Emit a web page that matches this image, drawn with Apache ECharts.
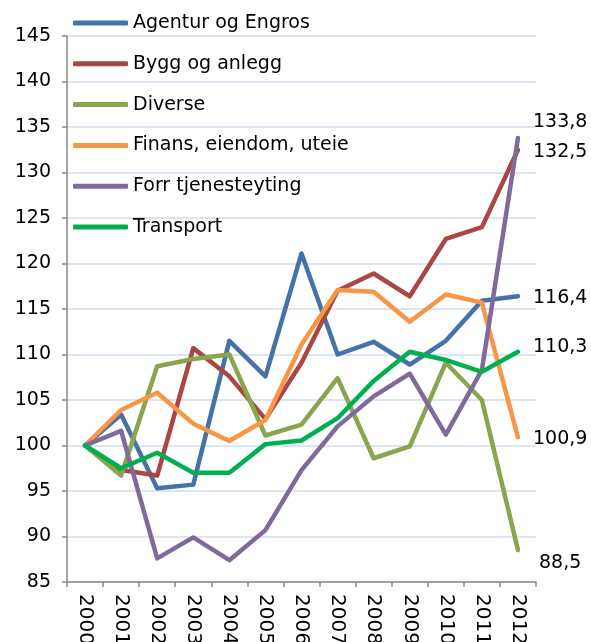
<!DOCTYPE html>
<html>
<head>
<meta charset="utf-8">
<script src="https://cdn.jsdelivr.net/npm/echarts@6/dist/echarts.min.js"></script>
<style>
html,body{margin:0;padding:0;background:#fff;}
#c{width:591px;height:642px;}
</style>
</head>
<body>
<div id="c"></div>
<script>
const years = ['2000','2001','2002','2003','2004','2005','2006','2007','2008','2009','2010','2011','2012'];
const seriesNames = ['Agentur og Engros','Bygg og anlegg','Diverse','Finans, eiendom, uteie','Forr tjenesteyting','Transport'];
const agentur  = [100,103.4,95.3,95.7,111.5,107.6,121.1,110.0,111.4,108.9,111.5,115.9,116.4];
const bygg     = [100,97.3,96.7,110.7,107.6,102.9,109.1,117.0,118.9,116.4,122.7,124.0,132.5];
const diverse  = [100,96.7,108.7,109.5,110.0,101.1,102.3,107.4,98.6,99.9,109.1,105.0,88.5];
const finans   = [100,103.9,105.8,102.4,100.5,102.8,111.1,117.1,116.9,113.6,116.6,115.7,100.9];
const forr     = [100,101.6,87.6,89.9,87.4,90.7,97.3,102.1,105.4,107.9,101.2,108.3,133.8];
const transport= [100,97.5,99.2,97.0,97.0,100.15,100.55,103.0,107.1,110.3,109.4,108.1,110.3];
const yTicks = [85,90,95,100,105,110,115,120,125,130,135,140,145];

const colors = ['#4572a7','#aa4643','#89a54e','#f79646','#80699b','#00b050'];
const allData = [agentur,bygg,diverse,finans,forr,transport];
const labelOffsets = [[0,2],[0,2],[6,13],[0,2],[0,-16],[0,-5]];

const fontFamily = 'DejaVu Sans, Liberation Sans, Arial, sans-serif';

const series = allData.map((arr,i)=>({
  name: seriesNames[i],
  type: 'line',
  symbol: 'none',
  showSymbol: false,
  z: 2 + i,
  lineStyle: {width: 4.5, color: colors[i], cap: 'round', join: 'round'},
  itemStyle: {color: colors[i]},
  data: arr,
  endLabel: {
    show: true, distance: 15, offset: labelOffsets[i],
    formatter: (p)=> Number(p.value).toFixed(1).replace('.', ','),
    color: '#000', fontSize: 19, fontFamily: fontFamily
  },
  emphasis: {disabled: true},
  animation: false
}));

const chart = echarts.init(document.getElementById('c'));
chart.setOption({
  animation: false,
  backgroundColor: '#fff',
  grid: {left: 67, right: 55, top: 36, bottom: 60, containLabel: false, outerBoundsMode: 'none'},
  legend: {
    orient: 'vertical',
    left: 73, top: 13,
    padding: 0,
    data: seriesNames,
    icon: 'roundRect',
    itemWidth: 55, itemHeight: 5,
    itemGap: 20.8,
    textStyle: {fontSize: 19, color: '#000', fontFamily: fontFamily, lineHeight: 20},
    selectedMode: false
  },
  xAxis: {
    type: 'category',
    data: years,
    boundaryGap: true,
    axisLine: {lineStyle: {color: '#898989', width: 1.5}},
    axisTick: {show: true, alignWithLabel: false, length: 5, lineStyle: {color: '#898989', width: 1.5}},
    axisLabel: {rotate: -90, fontSize: 20, color: '#000', fontFamily: fontFamily, margin: 12, interval: 0}
  },
  yAxis: {
    type: 'value',
    min: yTicks[0], max: yTicks[yTicks.length-1], interval: 5,
    axisLine: {show: true, lineStyle: {color: '#898989', width: 1.5}},
    axisTick: {show: true, length: 5, lineStyle: {color: '#898989', width: 1.5}},
    axisLabel: {fontSize: 19, color: '#000', fontFamily: fontFamily, margin: 16},
    splitLine: {show: true, lineStyle: {color: '#dce6f2', width: 2}}
  },
  series: series
});
</script>
</body>
</html>
